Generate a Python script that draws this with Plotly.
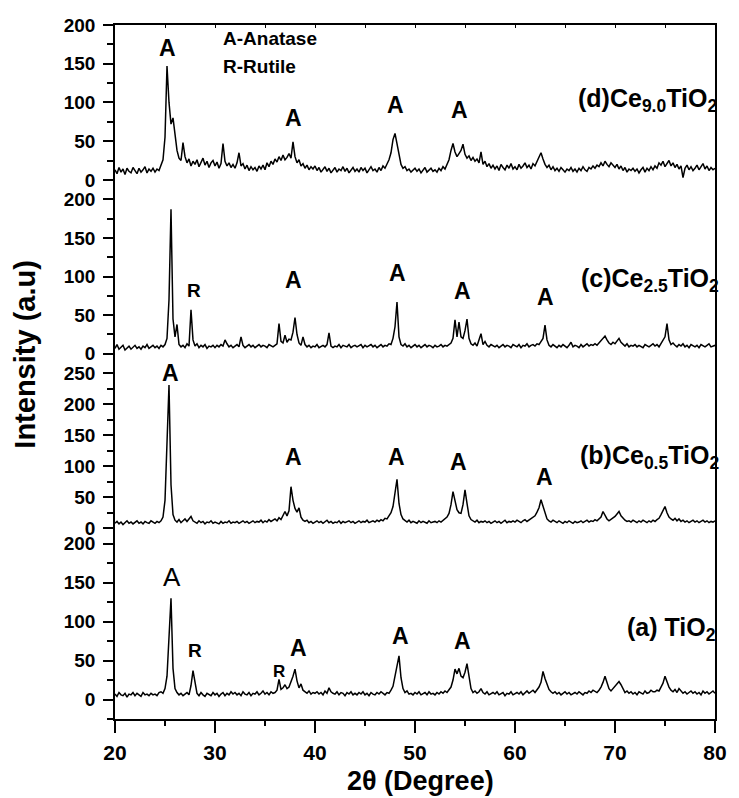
import numpy as np
import plotly.graph_objects as go
from plotly.subplots import make_subplots

# 2-theta scan positions (degrees), 0.2 degree steps from 20 to 80
two_theta = np.round(np.arange(20.0, 80.0001, 0.2), 1)

# (a) TiO2
tio2 = [7, 4, 9, 6, 5, 8, 3, 7, 6, 9,
        5, 8, 6, 4, 9, 6, 7, 5, 8, 6,
        7, 5, 9, 10, 8, 14, 30, 85, 130, 40,
        14, 9, 6, 8, 5, 7, 9, 6, 18, 37,
        20, 8, 5, 9, 6, 4, 8, 7, 5, 9,
        6, 8, 4, 7, 9, 5, 8, 6, 10, 7,
        9, 6, 8, 5, 10, 7, 6, 9, 5, 8,
        7, 10, 6, 8, 11, 7, 9, 6, 10, 8,
        9, 12, 26, 13, 15, 19, 14, 16, 22, 30,
        39, 24, 15, 20, 12, 10, 8, 11, 7, 9,
        8, 10, 7, 9, 6, 11, 8, 15, 10, 8,
        7, 10, 6, 9, 8, 5, 9, 7, 10, 6,
        8, 6, 9, 7, 10, 6, 8, 5, 9, 7,
        6, 9, 7, 10, 8, 6, 9, 8, 12, 17,
        30, 46, 56, 28, 14, 9, 11, 7, 8, 6,
        9, 7, 10, 6, 8, 9, 6, 10, 7, 8,
        6, 9, 7, 10, 8, 11, 9, 13, 16, 25,
        39, 33, 40, 30, 28, 35, 46, 30, 14, 9,
        11, 8, 10, 14, 9, 7, 10, 6, 8, 9,
        7, 10, 6, 8, 9, 5, 8, 7, 10, 6,
        8, 9, 7, 10, 6, 9, 11, 8, 10, 12,
        9, 13, 16, 22, 36, 27, 20, 13, 10, 8,
        10, 7, 9, 6, 8, 10, 7, 9, 6, 8,
        9, 7, 10, 8, 6, 9, 8, 11, 9, 12,
        10, 9, 12, 16, 22, 30, 22, 14, 11, 14,
        18, 20, 23, 19, 13, 9, 11, 8, 10, 7,
        9, 6, 10, 8, 7, 11, 8, 9, 12, 10,
        10, 12, 11, 16, 21, 30, 22, 16, 12, 10,
        13, 9, 14, 11, 8, 10, 7, 9, 11, 8,
        10, 7, 9, 6, 11, 8, 10, 7, 9, 11,
        8]

# (b) Ce0.5TiO2
ce05 = [8, 11, 7, 10, 6, 9, 12, 8, 10, 7,
        9, 12, 8, 10, 7, 11, 9, 8, 12, 10,
        8, 11, 9, 12, 18, 45, 150, 231, 70, 22,
        13, 10, 14, 9, 12, 15, 11, 15, 19, 12,
        10, 8, 12, 9, 11, 7, 10, 9, 12, 8,
        10, 9, 7, 11, 8, 10, 9, 12, 8, 10,
        9, 11, 8, 10, 12, 9, 11, 8, 10, 12,
        9, 11, 10, 13, 9, 12, 10, 14, 11, 13,
        15, 12, 17, 14, 22, 27, 20, 28, 67, 45,
        32, 26, 33, 18, 13, 11, 13, 9, 11, 8,
        10, 12, 9, 11, 8, 10, 13, 9, 11, 8,
        10, 9, 12, 8, 11, 9, 10, 12, 9, 11,
        8, 10, 12, 9, 11, 10, 13, 9, 11, 12,
        10, 13, 11, 14, 12, 16, 15, 20, 25, 35,
        60, 79, 40, 22, 15, 12, 10, 13, 9, 11,
        10, 8, 12, 9, 11, 10, 8, 12, 9, 10,
        11, 9, 12, 10, 13, 15, 18, 24, 38, 59,
        45, 30, 25, 24, 38, 62, 40, 20, 14, 12,
        10, 13, 9, 11, 10, 12, 9, 11, 8, 10,
        12, 9, 11, 8, 10, 13, 9, 11, 10, 12,
        10, 13, 11, 9, 12, 14, 11, 13, 15, 18,
        20, 26, 33, 46, 35, 22, 15, 12, 10, 13,
        11, 9, 12, 10, 8, 11, 9, 12, 10, 8,
        11, 9, 10, 12, 9, 11, 13, 10, 12, 11,
        14, 12, 15, 18, 27, 20, 15, 12, 14, 16,
        19, 23, 27, 20, 16, 13, 11, 12, 10, 13,
        11, 9, 12, 10, 13, 11, 9, 12, 10, 13,
        11, 14, 16, 22, 28, 35, 25, 18, 15, 13,
        16, 12, 15, 11, 13, 10, 12, 9, 11, 13,
        10, 12, 9, 11, 13, 10, 12, 9, 11, 10,
        12]

# (c) Ce2.5TiO2
ce25 = [7, 12, 6, 9, 11, 5, 8, 10, 6, 9,
        11, 7, 9, 6, 10, 8, 12, 7, 9, 11,
        8, 10, 7, 11, 9, 12, 20, 70, 187, 45,
        22, 38, 12, 9, 11, 8, 13, 10, 57, 18,
        10, 13, 8, 11, 9, 12, 7, 10, 9, 11,
        8, 11, 9, 12, 10, 18, 13, 9, 11, 8,
        10, 12, 9, 22, 11, 8, 10, 12, 9, 11,
        8, 10, 12, 9, 11, 10, 8, 12, 10, 9,
        11, 13, 39, 16, 14, 24, 15, 19, 18, 28,
        47, 25, 14, 11, 22, 12, 9, 11, 8, 10,
        9, 12, 8, 10, 11, 9, 12, 27, 10, 8,
        10, 9, 12, 8, 11, 10, 9, 12, 8, 10,
        11, 9, 10, 12, 8, 11, 9, 10, 12, 9,
        11, 8, 10, 12, 9, 11, 10, 13, 12, 20,
        35, 67, 22, 12, 10, 13, 9, 11, 8, 10,
        12, 9, 11, 8, 10, 12, 9, 11, 10, 8,
        11, 9, 10, 12, 9, 11, 10, 12, 14, 20,
        44, 22, 41, 22, 20, 30, 45, 20, 13, 11,
        14, 10, 18, 26, 12, 16, 11, 9, 12, 10,
        9, 11, 8, 10, 12, 9, 11, 10, 8, 12,
        10, 9, 12, 8, 11, 10, 13, 9, 11, 12,
        10, 13, 12, 16, 20, 37, 18, 11, 9, 12,
        10, 8, 11, 9, 12, 10, 8, 11, 15, 9,
        11, 10, 8, 12, 9, 11, 13, 10, 12, 11,
        13, 11, 14, 16, 19, 23, 18, 14, 12, 15,
        13, 16, 20, 15, 12, 10, 13, 9, 11, 10,
        12, 9, 11, 10, 8, 12, 10, 9, 11, 13,
        10, 12, 9, 14, 17, 22, 39, 18, 12, 14,
        11, 9, 12, 10, 13, 9, 11, 8, 12, 10,
        9, 11, 8, 12, 10, 9, 11, 13, 9, 10,
        11]

# (d) Ce9.0TiO2
ce90 = [13, 8, 16, 10, 14, 7, 15, 11, 9, 16,
        12, 8, 15, 10, 13, 17, 9, 14, 11, 15,
        10, 14, 12, 19, 26, 55, 147, 100, 72, 80,
        55, 38, 28, 25, 48, 30, 22, 27, 18, 24,
        20, 26, 17, 23, 28, 19, 24, 16, 22, 25,
        18, 23, 15, 21, 47, 24, 18, 22, 16, 20,
        15, 22, 35, 18, 21, 14, 19, 12, 17, 13,
        16, 11, 18, 14, 19, 13, 22, 17, 24, 20,
        27, 23, 30, 25, 32, 26, 29, 34, 28, 49,
        30, 22, 26, 18, 21, 15, 19, 13, 17, 14,
        18, 12, 16, 10, 14, 17, 11, 15, 9, 13,
        16, 10, 14, 12, 17, 11, 15, 9, 13, 16,
        11, 14, 10, 16, 12, 15, 9, 13, 17, 12,
        14, 10, 16, 12, 18, 15, 20, 26, 35, 52,
        60, 45, 30, 20, 15, 17, 12, 14, 10, 13,
        15, 11, 14, 9, 13, 16, 10, 12, 15, 11,
        13, 10, 15, 12, 17, 14, 20, 26, 38, 47,
        36, 30, 34, 38, 46, 33, 28, 31, 25, 29,
        24, 27, 22, 36, 20, 24, 17, 21, 15, 19,
        14, 18, 12, 20, 16, 13, 19, 15, 21, 14,
        17, 13, 20, 15, 18, 22, 16, 19, 14, 21,
        18, 24, 28, 35, 27, 20, 16, 19, 13, 17,
        12, 15, 11, 16, 13, 10, 14, 12, 16, 11,
        14, 10, 15, 12, 17, 13, 11, 16, 14, 18,
        15, 19, 17, 22, 18, 24, 20, 17, 22, 19,
        16, 20, 14, 18, 12, 16, 10, 14, 12, 15,
        11, 14, 9, 13, 16, 10, 15, 12, 17, 13,
        18, 15, 22, 19, 24, 17, 21, 25, 18, 22,
        16, 20, 14, 18, 3, 15, 19, 13, 17, 12,
        15, 19, 13, 17, 21, 14, 18, 12, 16, 13,
        15]

x_ticks = [20, 30, 40, 50, 60, 70, 80]
y_ticks_200 = [0, 50, 100, 150, 200]
y_ticks_250 = [0, 50, 100, 150, 200, 250]

for name, arr in [("tio2", tio2), ("ce05", ce05), ("ce25", ce25), ("ce90", ce90)]:
    if len(arr) != len(two_theta):
        print("length mismatch", name, len(arr), len(two_theta))

FONT = "Liberation Sans, Arial, sans-serif"

fig = make_subplots(rows=4, cols=1, shared_xaxes=True, vertical_spacing=0,
                    row_heights=[174.3, 174.0, 170.7, 175.3])

panels = [(ce90, 1, [-25, 200], y_ticks_200), (ce25, 2, [-25, 200], y_ticks_200),
          (ce05, 3, [-25, 250], y_ticks_250), (tio2, 4, [-25, 200], y_ticks_200)]

for ys, r, rng, tv in panels:
    fig.add_trace(go.Scatter(x=two_theta, y=ys, mode="lines",
                             line=dict(color="black", width=1.5),
                             showlegend=False, hoverinfo="skip"),
                  row=r, col=1)
    minor_vals = [v - 25 for v in tv] + [tv[-1] + 25]
    fig.update_yaxes(row=r, col=1, range=rng, tickmode="array", tickvals=tv,
                     ticktext=[f"<b>{v}</b>" for v in tv],
                     ticks="outside", ticklen=10, tickwidth=1.5, tickcolor="black",
                     showline=True, linewidth=1.5, linecolor="black", mirror=True,
                     showgrid=False, zeroline=False, ticklabelstandoff=4,
                     minor=dict(ticks="outside", ticklen=6, tickwidth=1.5,
                                tickcolor="black", tickmode="array",
                                tickvals=[m for m in minor_vals if m not in tv],
                                showgrid=False),
                     tickfont=dict(family=FONT, size=19, color="black", weight=700))

# right-hand tick marks
for r, (ys, rr, rng, tv) in enumerate(panels, start=1):
    ov = "y" if r == 1 else f"y{r}"
    an = "x" if r == 1 else f"x{r}"
    fig.layout[f"yaxis{4 + r}"] = dict(overlaying=ov, anchor=an, side="right",
                                       range=rng, tick0=0, dtick=25, ticks="outside",
                                       ticklen=3, tickwidth=1.5, tickcolor="black",
                                       showticklabels=False, showgrid=False,
                                       zeroline=False, showline=False)

# x axes
fig.update_xaxes(range=[20, 80], showgrid=False, zeroline=False)
fig.update_xaxes(row=1, col=1, side="top", showline=True, linewidth=1.5,
                 linecolor="black", ticks="inside", ticklen=3, tickwidth=1,
                 tick0=20, dtick=5, tickcolor="black", showticklabels=False)
fig.update_xaxes(row=2, col=1, showline=False, ticks="")
fig.update_xaxes(row=3, col=1, showline=False, ticks="")
fig.update_xaxes(row=4, col=1, showline=True, linewidth=1.5, linecolor="black",
                 ticks="outside", ticklen=12, tickwidth=1.5, tickcolor="black",
                 tickmode="array", tickvals=x_ticks,
                 ticktext=[f"<b>{v}</b>" for v in x_ticks],
                 showticklabels=True, ticklabelstandoff=2,
                 minor=dict(ticks="outside", ticklen=5, tickwidth=1.5,
                            tickcolor="black", tickmode="array",
                            tickvals=[v + 5 for v in x_ticks[:-1]], showgrid=False),
                 tickfont=dict(family=FONT, size=21, color="black", weight=700))

# peak labels: (text, 2theta, intensity, row, size, bold)
peak_labels = [
    ("A", 25.2, 170, 1, 23, True), ("A", 37.87, 80, 1, 23, True),
    ("A", 48.0, 97, 1, 23, True), ("A", 54.4, 90, 1, 23, True),
    ("A", 25.4, 212, 2, 23, True), ("R", 27.87, 82, 2, 19, True),
    ("A", 37.87, 95, 2, 23, True), ("A", 48.26, 104, 2, 23, True),
    ("A", 54.75, 81, 2, 23, True), ("A", 63.05, 73, 2, 23, True),
    ("A", 25.57, 250, 3, 23, True), ("A", 37.8, 115, 3, 23, True),
    ("A", 48.1, 115, 3, 23, True), ("A", 54.36, 107, 3, 23, True),
    ("A", 62.9, 83, 3, 23, True),
    ("A", 25.67, 157, 4, 26, False), ("R", 27.97, 63, 4, 19, True),
    ("R", 36.4, 36, 4, 17, True), ("A", 38.36, 66, 4, 23, True),
    ("A", 48.52, 81, 4, 23, True), ("A", 54.7, 75, 4, 23, True),
]
annots = []
for t, x, y, r, s, b in peak_labels:
    annots.append(dict(text=f"<b>{t}</b>" if b else t, x=x, y=y,
                       xref="x" if r == 1 else f"x{r}",
                       yref="y" if r == 1 else f"y{r}", showarrow=False,
                       xanchor="center", yanchor="middle",
                       font=dict(family=FONT, size=s, color="black")))

sample_labels = [
    ("<b>(d)Ce</b><sub><b>9.0</b></sub><b>TiO</b><sub><b>2</b></sub>", 103, 1, 4),
    ("<b>(c)Ce</b><sub><b>2.5</b></sub><b>TiO</b><sub><b>2</b></sub>", 95, 2, 6),
    ("<b>(b)Ce</b><sub><b>0.5</b></sub><b>TiO</b><sub><b>2</b></sub>", 115, 3, 6),
    ("<b>(a) TiO</b><sub><b>2</b></sub>", 90, 4, 3),
]
for t, y, r, shift in sample_labels:
    annots.append(dict(text=t, x=80, y=y, xref="x" if r == 1 else f"x{r}",
                       yref="y" if r == 1 else f"y{r}", showarrow=False,
                       xanchor="right", yanchor="middle", xshift=shift,
                       font=dict(family=FONT, size=25, color="black")))

for t, y in [("A-Anatase", 183), ("R-Rutile", 146)]:
    annots.append(dict(text=f"<b>{t}</b>", x=30.59, y=y, xref="x", yref="y",
                       showarrow=False, xanchor="left", yanchor="middle",
                       font=dict(family=FONT, size=19, color="black")))

annots.append(dict(text="<b>Intensity (a.u)</b>", x=-0.15, y=0.525,
                   xref="paper", yref="paper",
                   showarrow=False, textangle=-90, xanchor="center", yanchor="middle",
                   font=dict(family=FONT, size=29, color="black")))
annots.append(dict(text="<b>2θ (Degree)</b>", x=0.509, y=-0.09,
                   xref="paper", yref="paper",
                   showarrow=False, xanchor="center", yanchor="middle",
                   font=dict(family=FONT, size=27, color="black")))

fig.update_layout(width=739, height=798,
                  margin=dict(l=115, r=14, t=25, b=79),
                  paper_bgcolor="white", plot_bgcolor="white",
                  annotations=annots, showlegend=False)

fig.write_html("out.html")
